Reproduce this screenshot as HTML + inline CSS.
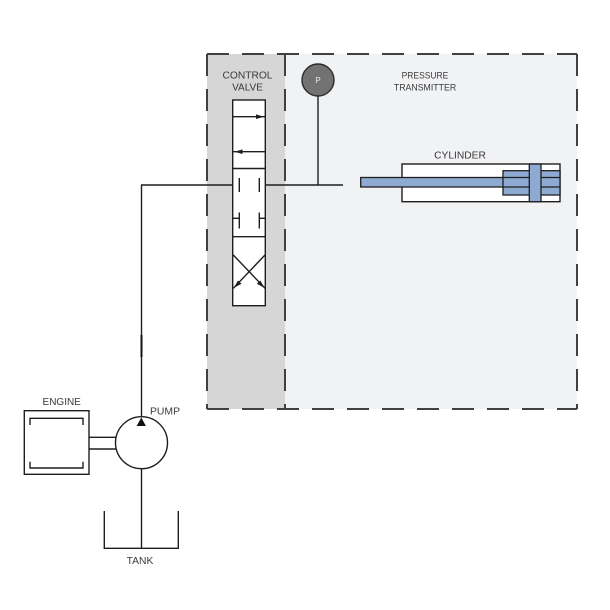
<!DOCTYPE html>
<html><head><meta charset="utf-8"><style>
html,body{margin:0;padding:0;background:#fff;}
svg{display:block;}
text{font-family:"Liberation Sans",Arial,sans-serif;fill:#3a3a3a;}
</style></head><body>
<svg width="610" height="610" viewBox="0 0 610 610" xmlns="http://www.w3.org/2000/svg">
<rect x="0" y="0" width="610" height="610" fill="#fff"/>
<!-- regions -->
<rect x="207" y="54" width="78" height="355" fill="#d6d6d6"/>
<rect x="285" y="54" width="292" height="355" fill="#f1f2f4"/>
<g stroke="#404040" stroke-width="2" fill="none" stroke-dasharray="22 13">
  <line x1="207" y1="54" x2="577" y2="54"/>
  <line x1="207" y1="409" x2="577" y2="409"/>
  <line x1="207" y1="54" x2="207" y2="409"/>
  <line x1="285" y1="54" x2="285" y2="409"/>
  <line x1="577" y1="54" x2="577" y2="409"/>
</g>
<!-- labels -->
<text x="247.5" y="78.3" font-size="10" text-anchor="middle" textLength="50" lengthAdjust="spacingAndGlyphs">CONTROL</text>
<text x="247.5" y="90.7" font-size="10" text-anchor="middle">VALVE</text>
<text x="425" y="78.3" font-size="9" text-anchor="middle" textLength="46.7" lengthAdjust="spacingAndGlyphs">PRESSURE</text>
<text x="425" y="90.7" font-size="9" text-anchor="middle" textLength="62.3" lengthAdjust="spacingAndGlyphs">TRANSMITTER</text>
<text x="460" y="158.3" font-size="10" text-anchor="middle" textLength="51.7" lengthAdjust="spacingAndGlyphs">CYLINDER</text>
<text x="61.7" y="405" font-size="10" text-anchor="middle" textLength="38.3" lengthAdjust="spacingAndGlyphs">ENGINE</text>
<text x="165" y="414.3" font-size="10" text-anchor="middle" textLength="30" lengthAdjust="spacingAndGlyphs">PUMP</text>
<text x="140" y="564" font-size="10" text-anchor="middle" textLength="26.7" lengthAdjust="spacingAndGlyphs">TANK</text>

<g stroke="#1e1e1e" stroke-width="1.4" fill="none">
  <!-- main pipe -->
  <line x1="141.5" y1="185" x2="141.5" y2="417"/>
  <line x1="141" y1="185" x2="239.3" y2="185"/>
  <line x1="259.3" y1="185" x2="343" y2="185"/>
  <!-- pressure transmitter stem -->
  <line x1="318" y1="96" x2="318" y2="185"/>
  <!-- valve body -->
  <rect x="232.7" y="100" width="32.6" height="205.7" fill="#fff"/>
  <line x1="232.7" y1="116.7" x2="265.3" y2="116.7"/>
  <line x1="232.7" y1="151.7" x2="265.3" y2="151.7"/>
  <line x1="232.7" y1="168.5" x2="265.3" y2="168.5"/>
  <line x1="232.7" y1="236.7" x2="265.3" y2="236.7"/>
  <!-- T ports -->
  <line x1="239.3" y1="178" x2="239.3" y2="192"/>
  <line x1="259.3" y1="178" x2="259.3" y2="192"/>
  <line x1="239.3" y1="212.5" x2="239.3" y2="228.5"/>
  <line x1="259.3" y1="212.5" x2="259.3" y2="228.5"/>
  <line x1="232.7" y1="218.3" x2="239.3" y2="218.3"/>
  <line x1="259.3" y1="218.3" x2="265.3" y2="218.3"/>
  <!-- cross -->
  <line x1="233.3" y1="255" x2="265" y2="288.3"/>
  <line x1="265" y1="255" x2="233.3" y2="288.3"/>
  <!-- cylinder -->
  <rect x="402" y="164" width="158" height="37.7" fill="#fff"/>
</g>
<!-- valve arrowheads -->
<g fill="#1e1e1e">
  <polygon points="264,116.7 256,114.4 256,119"/>
  <polygon points="234.5,151.7 242.5,149.4 242.5,154"/>
  <polygon points="233.6,288 238,280.5 241.5,283.8"/>
  <polygon points="264.7,288 256.8,283.8 260.3,280.5"/>
</g>
<!-- cylinder internals -->
<g stroke="#1e1e1e" stroke-width="1.3" fill="#8faad2">
  <rect x="360.7" y="177.5" width="170" height="9.5"/>
  <rect x="503" y="170.7" width="57" height="24.3"/>
  <line x1="503" y1="177.5" x2="560" y2="177.5"/>
  <line x1="503" y1="187" x2="560" y2="187"/>
  <rect x="529.3" y="164" width="11.7" height="37.7"/>
</g>
<!-- pressure gauge -->
<circle cx="318" cy="80" r="16" fill="#727272" stroke="#2a2a2a" stroke-width="1.4"/>
<text x="318" y="83" font-size="8" text-anchor="middle" style="fill:#e8e8e8">P</text>

<!-- pump line dark segment -->
<line x1="141.5" y1="335" x2="141.5" y2="357" stroke="#111" stroke-width="2"/>

<g stroke="#1e1e1e" stroke-width="1.4" fill="none">
  <!-- engine -->
  <rect x="24.3" y="410.7" width="64.7" height="63.6"/>
  <polyline points="30,425 30,418.3 83,418.3 83,425"/>
  <polyline points="30,461.7 30,468 83,468 83,461.7"/>
  <line x1="89" y1="437.3" x2="117" y2="437.3"/>
  <line x1="89" y1="449" x2="117" y2="449"/>
  <!-- pump -->
  <circle cx="141.5" cy="442.7" r="26" fill="#fff"/>
  <line x1="141.5" y1="468.7" x2="141.5" y2="548.3"/>
  <!-- tank -->
  <polyline points="104.3,511 104.3,548.3 178.3,548.3 178.3,511"/>
</g>
<polygon points="141.3,417.5 136.7,426 145.9,426" fill="#111"/>
</svg>
</body></html>
